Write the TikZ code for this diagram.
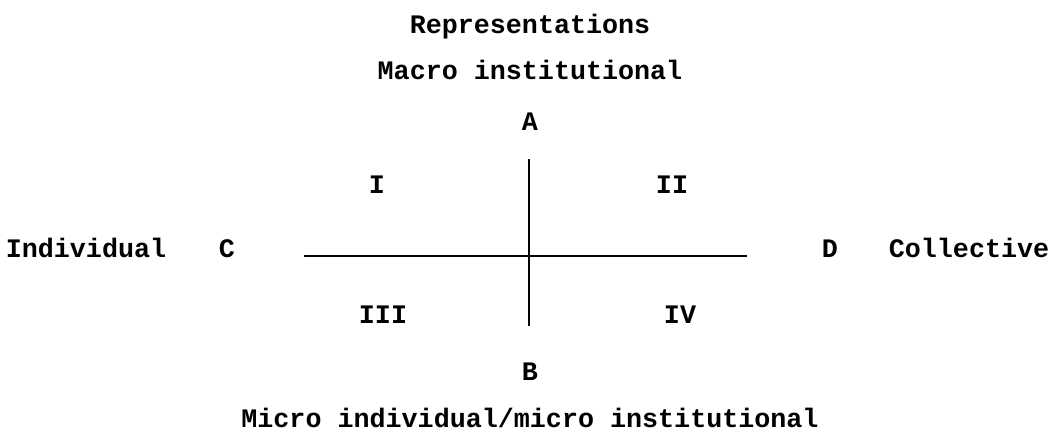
\documentclass[tikz,border=0pt]{standalone}
\usepackage{fontspec}
\setmonofont{Liberation Mono}
\begin{document}
\begin{tikzpicture}[x=0.025cm, y=-0.025cm,
    every node/.style={font=\ttfamily\bfseries\fontsize{19}{22}\selectfont, anchor=base, inner sep=0pt},
    axis/.style={line width=1pt}]
    % Rahmen (1 Einheit = 1 Pixel)
    \useasboundingbox (0,0) rectangle (1056,439);

    % Titel oben
    \node (titel) at (530,34) {Representations};
    \node (makro) at (530,80) {Macro institutional};

    % Achsenenden
    \coordinate (oben)   at (529,159);
    \coordinate (unten)  at (529,326);
    \coordinate (links)  at (304,256);
    \coordinate (rechts) at (747,256);

    % Achsen
    \draw[axis] (oben) -- (unten);
    \draw[axis] (links) -- (rechts);

    % Pole
    \node (A) at (530,131) {A};
    \node (B) at (530,380) {B};
    \node (C) at (227,257) {C};
    \node (D) at (830,257) {D};
    \node (indiv) at (86,257)  {Individual};
    \node (koll)  at (969,257) {Collective};

    % Quadranten
    \foreach \q/\x/\y in {I/377/193, II/672/193, III/383/323, IV/680/323}
        \node (q\q) at (\x,\y) {\q};

    % Titel unten
    \node (mikro) at (530,427) {Micro individual/micro institutional};
\end{tikzpicture}
\end{document}
